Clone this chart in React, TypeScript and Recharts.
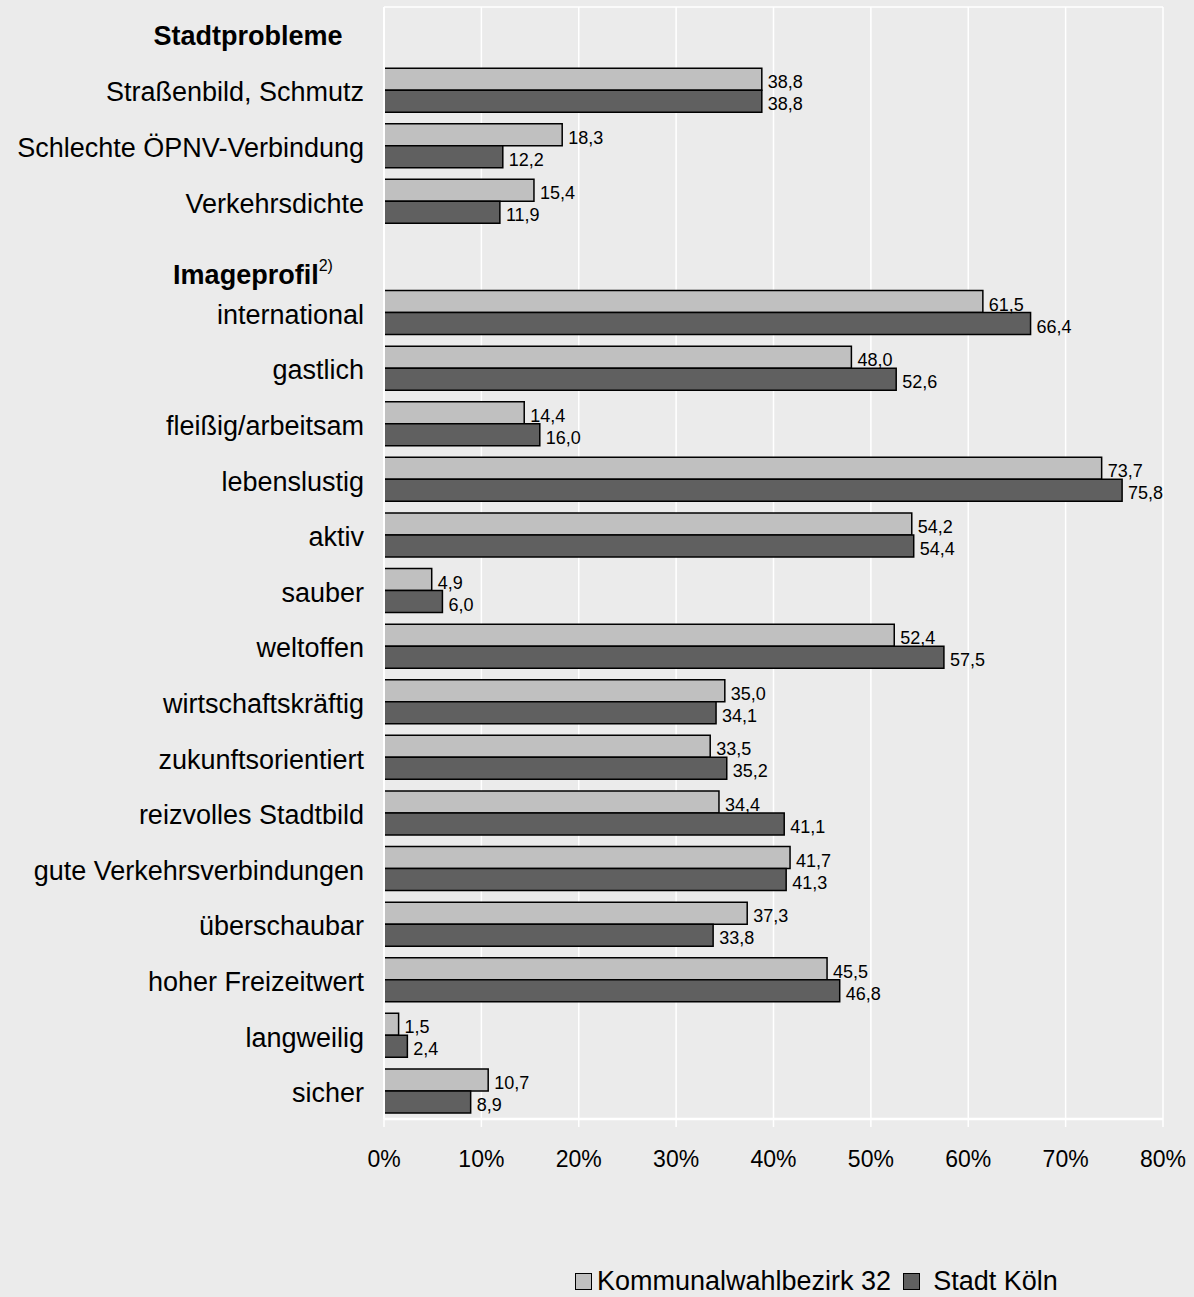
import React from "react";
import {
  BarChart,
  Bar,
  XAxis,
  YAxis,
  CartesianGrid,
  LabelList,
  Legend,
} from "recharts";

const categories = [
  "Stadtprobleme",
  "Straßenbild, Schmutz",
  "Schlechte ÖPNV-Verbindung",
  "Verkehrsdichte",
  "Imageprofil",
  "international",
  "gastlich",
  "fleißig/arbeitsam",
  "lebenslustig",
  "aktiv",
  "sauber",
  "weltoffen",
  "wirtschaftskräftig",
  "zukunftsorientiert",
  "reizvolles Stadtbild",
  "gute Verkehrsverbindungen",
  "überschaubar",
  "hoher Freizeitwert",
  "langweilig",
  "sicher",
];

const bezirk32 = [
  null, 38.8, 18.3, 15.4, null, 61.5, 48.0, 14.4, 73.7, 54.2, 4.9, 52.4, 35.0,
  33.5, 34.4, 41.7, 37.3, 45.5, 1.5, 10.7,
];

const stadtKoeln = [
  null, 38.8, 12.2, 11.9, null, 66.4, 52.6, 16.0, 75.8, 54.4, 6.0, 57.5, 34.1,
  35.2, 41.1, 41.3, 33.8, 46.8, 2.4, 8.9,
];

const xTicks = [0, 10, 20, 30, 40, 50, 60, 70, 80];

const seriesNames = ["Kommunalwahlbezirk 32", "Stadt Köln"];
const seriesColors = ["#c0c0c0", "#606060"];

const data = categories.map((name, i) => ({
  name,
  bezirk: bezirk32[i],
  koeln: stadtKoeln[i],
}));

const FONT = "'Liberation Sans', Arial, sans-serif";

const CategoryTick = (props: any) => {
  const { x, y, payload } = props;
  const label = payload.value;
  if (label === "Stadtprobleme") {
    return (
      <text x={x - 116} y={y + 10} textAnchor="middle" fontSize={27} fontWeight="bold" fill="#000" fontFamily={FONT}>
        {label}
      </text>
    );
  }
  if (label === "Imageprofil") {
    return (
      <text x={x - 111} y={y + 27} textAnchor="middle" fontSize={27} fontWeight="bold" fill="#000" fontFamily={FONT}>
        {label}
        <tspan fontSize={16} fontWeight="normal" dy={-13}>2)</tspan>
      </text>
    );
  }
  return (
    <text x={x} y={y + 11} textAnchor="end" fontSize={27} fill="#000" fontFamily={FONT}>
      {label}
    </text>
  );
};

const ValueLabel = (props: any) => {
  const { x, y, width, height, value } = props;
  if (value === null || value === undefined) return null;
  return (
    <text
      x={x + width + 6}
      y={y + height / 2 + 9}
      fontSize={18}
      fill="#000"
      fontFamily={FONT}
    >
      {Number(value).toFixed(1).replace(".", ",")}
    </text>
  );
};

const LegendContent = () => (
  <div
    style={{
      display: "flex",
      alignItems: "center",
      height: 31,
      fontSize: 27,
      lineHeight: "31px",
      fontFamily: FONT,
      color: "#000",
      whiteSpace: "nowrap",
    }}
  >
    {seriesNames.map((n, i) => (
      <span key={n} style={{ display: "flex", alignItems: "center" }}>
        <span
          style={{
            display: "inline-block",
            width: 15,
            height: 15,
            background: seriesColors[i],
            border: "1.5px solid #000",
            marginRight: i === 0 ? 5 : 13,
            marginLeft: i === 0 ? 0 : 12,
          }}
        />
        {n}
      </span>
    ))}
  </div>
);

export default function App() {
  return (
    <div
      style={{
        position: "absolute",
        top: 0,
        left: 0,
        width: 1194,
        height: 1297,
        background: "#ebebeb",
      }}
    >
      <BarChart
        width={1194}
        height={1297}
        data={data}
        layout="vertical"
        margin={{ top: 7, right: 31, left: 0, bottom: 0 }}
        barCategoryGap="10%"
        barGap={0}
      >
        <CartesianGrid
          stroke="#ffffff"
          strokeWidth={1.5}
          horizontalCoordinatesGenerator={({ offset }: any) => [offset.top]}
        />
        <XAxis
          type="number"
          domain={[0, 80]}
          ticks={xTicks}
          tickFormatter={(v) => `${v}%`}
          axisLine={{ stroke: "#ffffff", strokeWidth: 2.5 }}
          tickLine={{ stroke: "#ffffff", strokeWidth: 1.5 }}
          tickSize={8}
          tickMargin={24}
          height={147}
          tick={{ fontSize: 23, fill: "#000", fontFamily: FONT }}
          interval={0}
        />
        <YAxis
          type="category"
          dataKey="name"
          width={384}
          interval={0}
          tickSize={0}
          tickMargin={20}
          tickLine={false}
          axisLine={{ stroke: "#ffffff", strokeWidth: 2 }}
          tick={<CategoryTick />}
        />
        <Legend
          verticalAlign="bottom"
          content={<LegendContent />}
          wrapperStyle={{ left: 575, width: 600, height: 31 }}
        />
        <Bar
          dataKey="bezirk"
          name={seriesNames[0]}
          fill={seriesColors[0]}
          stroke="#000"
          strokeWidth={1.5}
          isAnimationActive={false}
        >
          <LabelList dataKey="bezirk" content={<ValueLabel />} />
        </Bar>
        <Bar
          dataKey="koeln"
          name={seriesNames[1]}
          fill={seriesColors[1]}
          stroke="#000"
          strokeWidth={1.5}
          isAnimationActive={false}
        >
          <LabelList dataKey="koeln" content={<ValueLabel />} />
        </Bar>
      </BarChart>
    </div>
  );
}
